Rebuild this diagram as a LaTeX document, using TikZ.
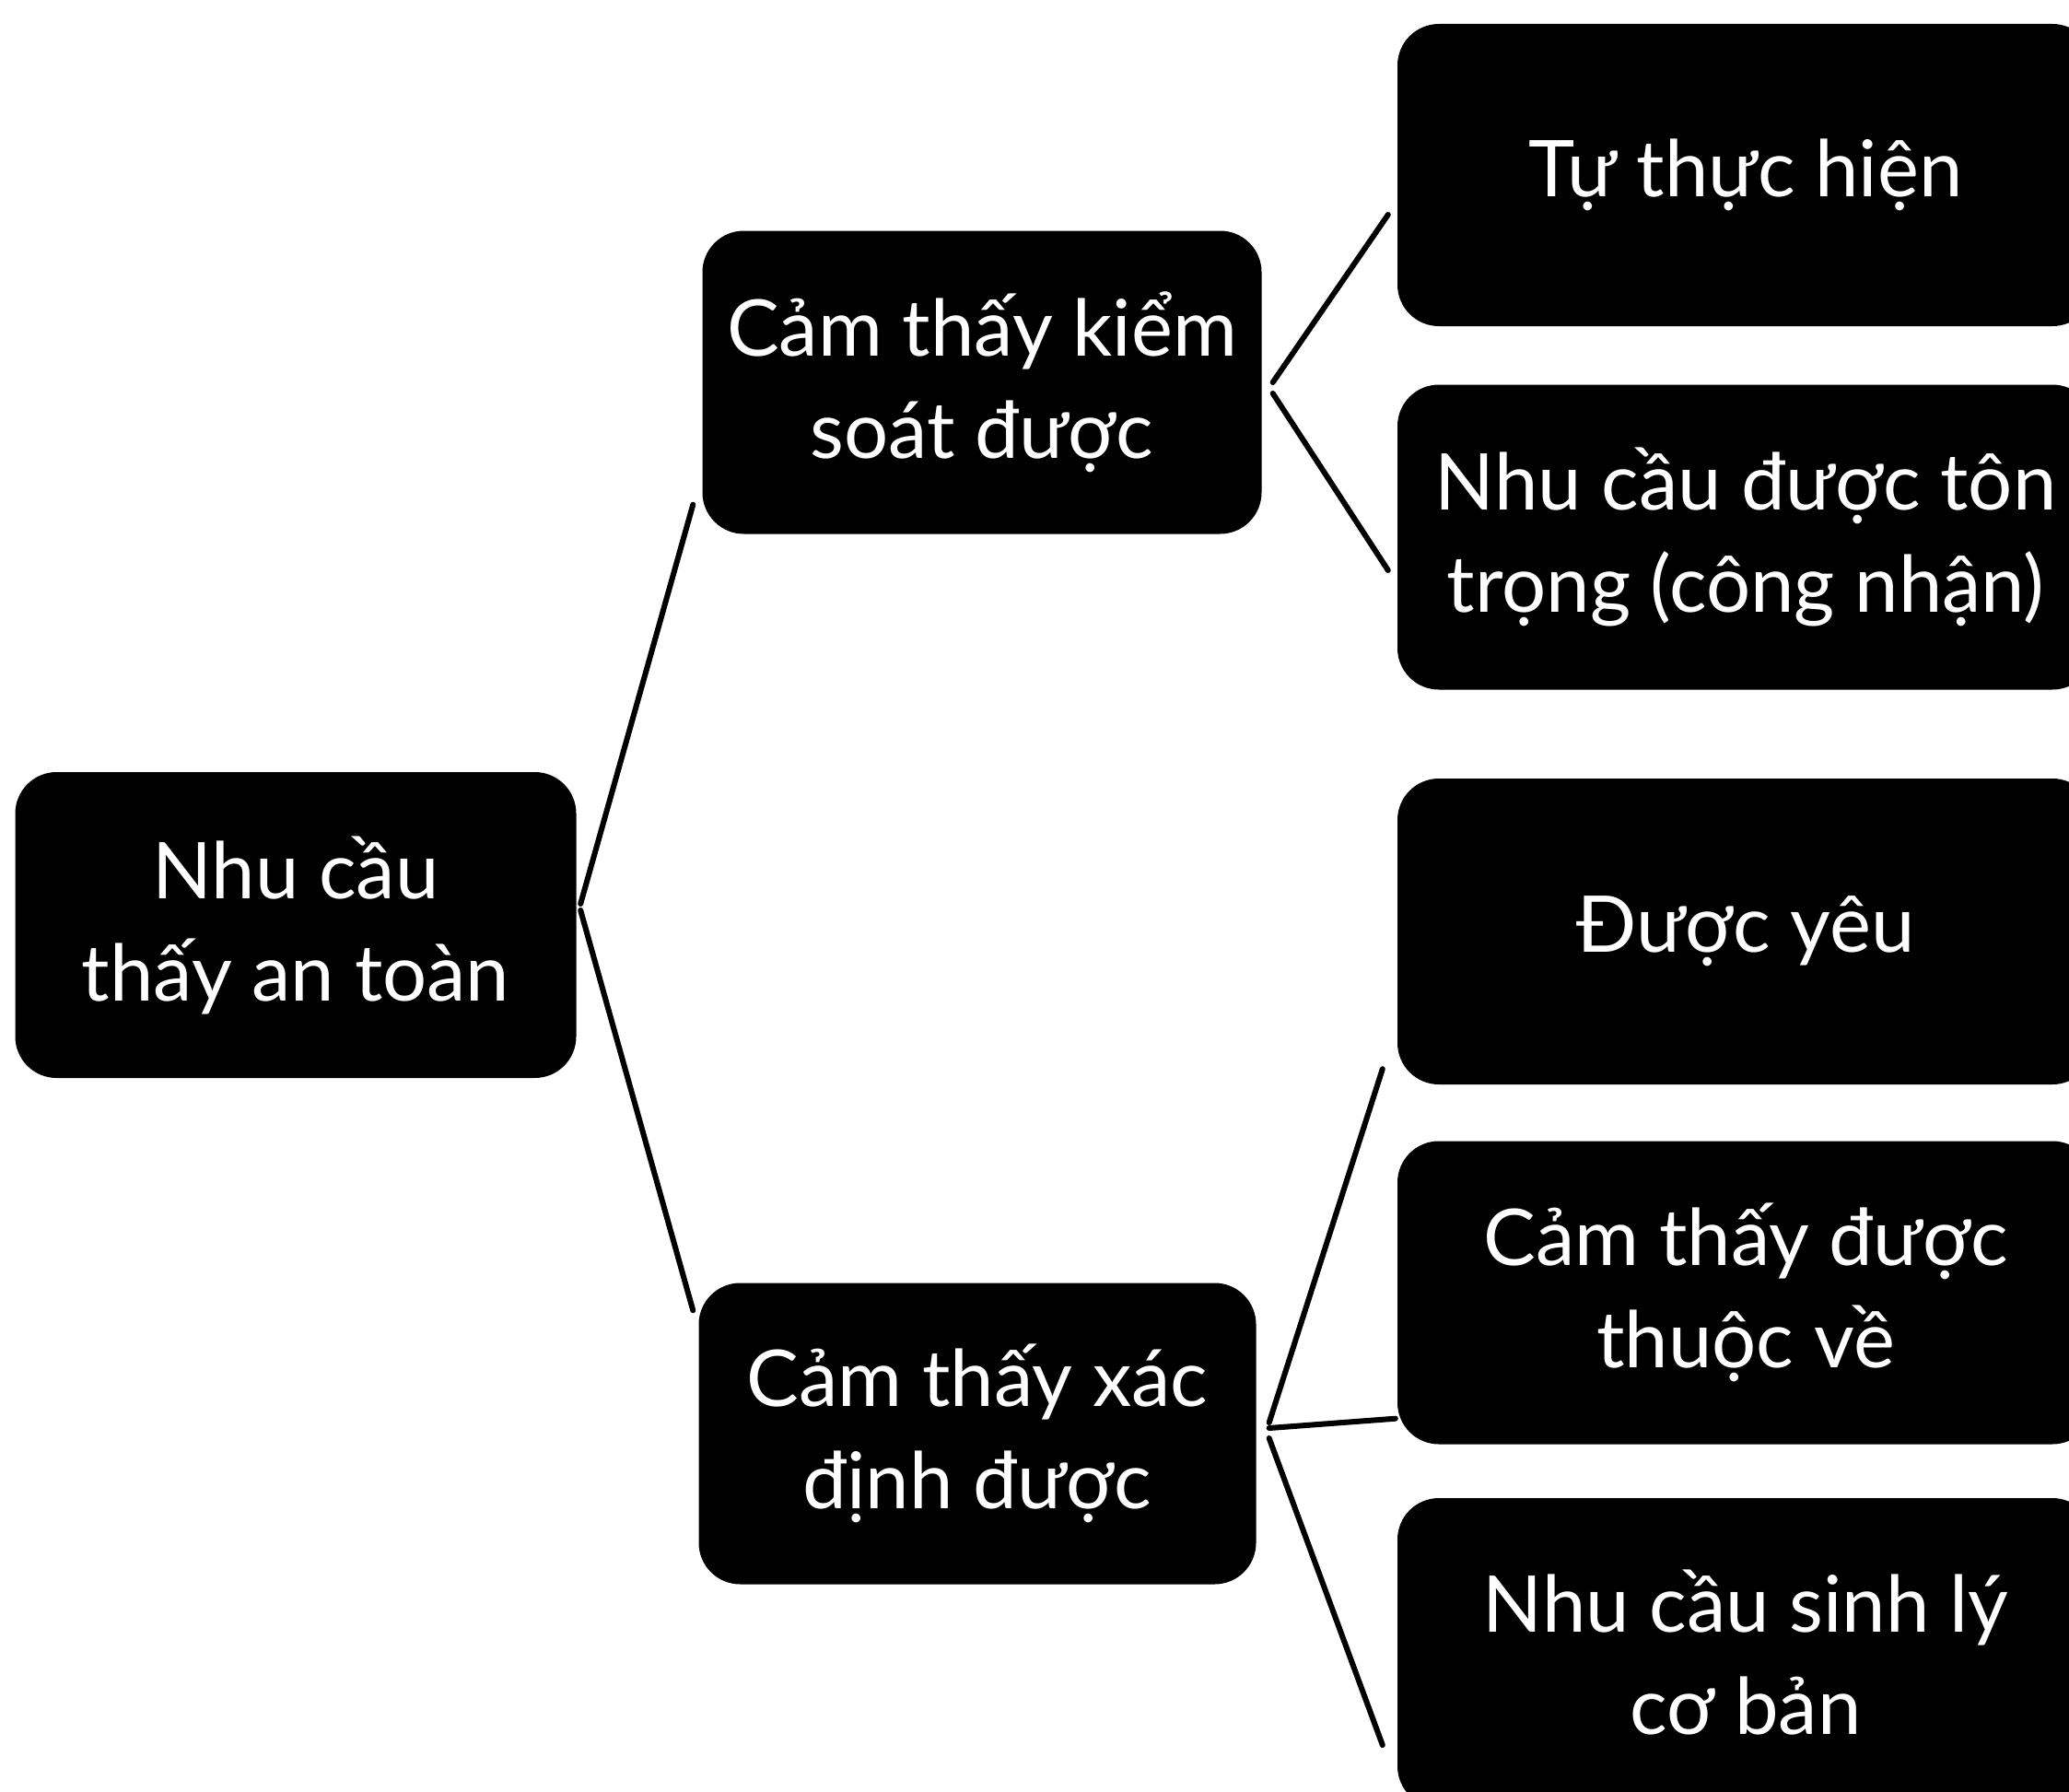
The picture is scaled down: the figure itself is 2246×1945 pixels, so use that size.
\documentclass[tikz,border=0pt]{standalone}
\usepackage{fontspec}
\setmainfont{Lato}
\usetikzlibrary{calc}
\tikzset{
  box/.style={rectangle, rounded corners=45pt, fill=black, draw=none,
    text=white, align=center, inner sep=0pt,
    font=\fontsize{85}{111}\selectfont},
  link/.style={draw=black, line width=6pt, line cap=round}
}
\begin{document}
\begin{tikzpicture}[x=1pt,y=-1pt]
\useasboundingbox (0,0) rectangle (2246,1945);
\begin{scope}
\clip (0,0) rectangle (2246,1945);
\node[box, minimum width=609pt, minimum height=332pt] (root) at (321,1004) {Nhu cầu\\thấy an toàn};
\node[box, minimum width=607pt, minimum height=329pt] (mt) at (1066,415) {Cảm thấy kiểm\\soát được};
\node[box, minimum width=605pt, minimum height=327pt] (mb) at (1061,1556) {Cảm thấy xác\\định được};
\node[box, minimum width=756pt, minimum height=328pt] (r1) at (1895,190) {Tự thực hiện};
\node[box, minimum width=756pt, minimum height=331pt] (r2) at (1895,583) {Nhu cầu được tôn\\trọng (công nhận)};
\node[box, minimum width=756pt, minimum height=332pt] (r3) at (1895,1011) {Được yêu};
\node[box, minimum width=756pt, minimum height=329pt] (r4) at (1895,1403) {Cảm thấy được\\thuộc về};
\node[box, minimum width=756pt, minimum height=336pt] (r5) at (1895,1794) {Nhu cầu sinh lý\\cơ bản};
\end{scope}
\draw[link] ([xshift=4.5pt,yshift=23pt]root.east) -- ([xshift=-10pt,yshift=32pt]mt.south west);
\draw[link] ([xshift=4.5pt,yshift=16pt]root.east) -- ([xshift=-6pt,yshift=-30pt]mb.north west);
\draw[link] ([xshift=12pt]mt.east) -- ([xshift=-10pt,yshift=-43pt]r1.west);
\draw[link] ([xshift=12pt,yshift=-12pt]mt.east) -- ([xshift=-10pt,yshift=-36pt]r2.west);
\draw[link] ([xshift=14pt,yshift=12pt]mb.east) -- ([xshift=-16pt,yshift=17pt]r3.south west);
\draw[link] ([xshift=14pt,yshift=6pt]mb.east) -- ([xshift=-2pt,yshift=28pt]r4.south west);
\draw[link] ([xshift=14pt,yshift=-5pt]mb.east) -- ([xshift=-16pt,yshift=-100pt]r5.west);
\end{tikzpicture}
\end{document}
